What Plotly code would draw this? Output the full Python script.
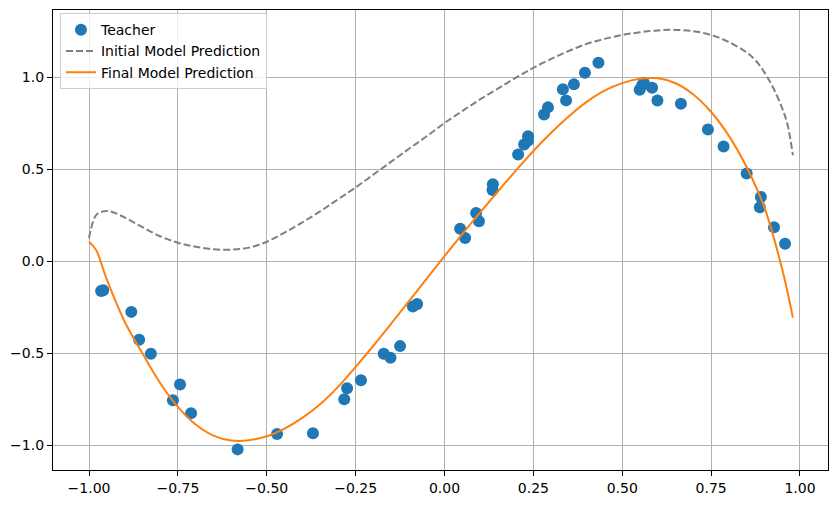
import plotly.graph_objects as go

# Teacher data points
teacher_x = [-0.966, -0.960, -0.881, -0.859, -0.826, -0.744, -0.764, -0.713, -0.582, -0.471,
             -0.370, -0.274, -0.282, -0.235, -0.171, -0.152, -0.125, -0.089, -0.077,
             0.044, 0.058, 0.089, 0.097, 0.136, 0.135, 0.207, 0.224, 0.235, 0.235,
             0.280, 0.291, 0.333, 0.342, 0.364, 0.395, 0.433,
             0.549, 0.556, 0.561, 0.584, 0.599, 0.665, 0.741, 0.785, 0.850,
             0.890, 0.887, 0.927, 0.958]
teacher_y = [-0.163, -0.158, -0.276, -0.428, -0.504, -0.671, -0.756, -0.827, -1.023, -0.940,
             -0.935, -0.691, -0.751, -0.648, -0.504, -0.525, -0.462, -0.247, -0.233,
             0.175, 0.125, 0.261, 0.216, 0.418, 0.386, 0.579, 0.633, 0.653, 0.678,
             0.796, 0.835, 0.933, 0.873, 0.960, 1.023, 1.077,
             0.931, 0.955, 0.967, 0.942, 0.872, 0.855, 0.715, 0.623, 0.476,
             0.348, 0.292, 0.184, 0.094]

# Initial model prediction (dashed gray)
init_x = [-1.0, -0.98, -0.96, -0.94, -0.9, -0.85, -0.8, -0.75, -0.7, -0.65, -0.6, -0.55,
          -0.5, -0.45, -0.4, -0.35, -0.3, -0.25, -0.2, -0.15, -0.1, -0.05, 0.0, 0.05,
          0.1, 0.15, 0.2, 0.25, 0.3, 0.35, 0.4, 0.45, 0.5, 0.55, 0.6, 0.65, 0.7, 0.75,
          0.8, 0.85, 0.875, 0.9, 0.925, 0.95, 0.965, 0.98]
init_y = [0.125, 0.25, 0.27, 0.27, 0.237, 0.185, 0.135, 0.10, 0.078, 0.064, 0.062, 0.073,
          0.105, 0.155, 0.21, 0.27, 0.335, 0.40, 0.47, 0.54, 0.61, 0.678, 0.75, 0.815,
          0.878, 0.937, 0.995, 1.05, 1.098, 1.142, 1.18, 1.207, 1.228, 1.243, 1.253, 1.256,
          1.249, 1.228, 1.19, 1.133, 1.09, 1.025, 0.94, 0.83, 0.74, 0.575]

# Final model prediction (orange)
final_x = [-1.0, -0.98, -0.95, -0.9, -0.85, -0.8, -0.75, -0.7, -0.65, -0.6, -0.55, -0.5,
           -0.45, -0.4, -0.35, -0.3, -0.25, -0.2, -0.15, -0.1, -0.05, 0.0, 0.05, 0.1,
           0.15, 0.2, 0.25, 0.3, 0.35, 0.4, 0.45, 0.5, 0.55, 0.6, 0.65, 0.7, 0.75, 0.8,
           0.85, 0.9, 0.95, 0.98]
final_y = [0.105, 0.06, -0.10, -0.328, -0.50, -0.662, -0.792, -0.888, -0.948, -0.975, -0.973,
           -0.952, -0.91, -0.852, -0.778, -0.685, -0.575, -0.46, -0.34, -0.218, -0.095,
           0.027, 0.147, 0.263, 0.378, 0.49, 0.598, 0.697, 0.787, 0.865, 0.926, 0.967, 0.99,
           0.993, 0.966, 0.905, 0.81, 0.68, 0.51, 0.29, -0.045, -0.307]

x_ticks = [-1.0, -0.75, -0.5, -0.25, 0.0, 0.25, 0.5, 0.75, 1.0]
y_ticks = [-1.0, -0.5, 0.0, 0.5, 1.0]

fig = go.Figure()
fig.add_trace(go.Scatter(x=teacher_x, y=teacher_y, mode="markers", name="Teacher",
                         marker=dict(color="#1f77b4", size=12)))
fig.add_trace(go.Scatter(x=init_x, y=init_y, mode="lines", name="Initial Model Prediction",
                         line=dict(color="#808080", width=2, dash="7px,3px",
                                   shape="spline", smoothing=1.0)))
fig.add_trace(go.Scatter(x=final_x, y=final_y, mode="lines", name="Final Model Prediction",
                         line=dict(color="#ff7f0e", width=2, shape="spline", smoothing=1.0)))

axis_common = dict(showgrid=True, gridcolor="#b0b0b0", gridwidth=1, zeroline=False,
                   showline=True, linecolor="black", linewidth=1.2, mirror=True,
                   ticks="outside", ticklen=5, tickcolor="black", tickwidth=1,
                   tickfont=dict(family="DejaVu Sans", size=14, color="black"))

fig.update_layout(
    width=838, height=505,
    margin=dict(l=53, r=10, t=9, b=34),
    paper_bgcolor="white", plot_bgcolor="white",
    xaxis=dict(range=[-1.1013, 1.0788], tickvals=x_ticks, tickformat=".2f", **axis_common),
    yaxis=dict(range=[-1.135, 1.364], tickvals=y_ticks, tickformat=".1f", **axis_common),
    legend=dict(x=0.009, y=0.993, xanchor="left", yanchor="top",
                bgcolor="rgba(255,255,255,0.8)", bordercolor="#cccccc", borderwidth=1,
                font=dict(family="DejaVu Sans", size=14, color="black"),
                tracegroupgap=0, itemwidth=30),
    showlegend=True,
)

fig.write_html("out.html")
